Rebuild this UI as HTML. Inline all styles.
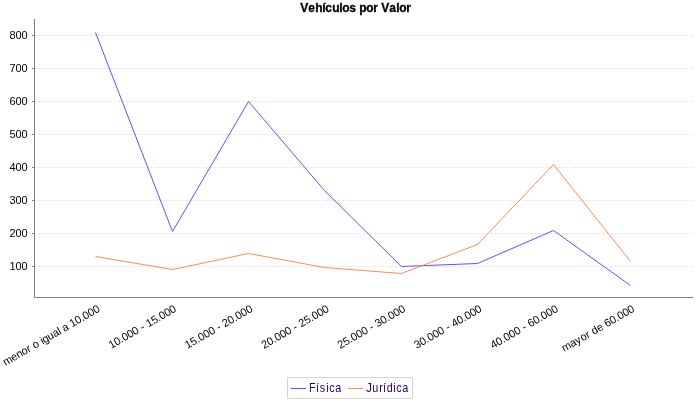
<!DOCTYPE html>
<html><head><meta charset="utf-8"><title>Vehículos por Valor</title>
<style>
html,body{margin:0;padding:0;background:#fff;}
body{width:700px;height:400px;overflow:hidden;}
svg{display:block;will-change:transform;font-family:'Liberation Sans', Arial, sans-serif;}
</style></head>
<body>
<svg width="700" height="400" viewBox="0 0 700 400">
<rect x="0" y="0" width="700" height="400" fill="#fff"/>
<text x="300.3 308.3 315.3 322.3 325.3 332.3 339.3 342.3 349.3 356.3 359.3 366.3 373.3 378.3 381.3 389.3 396.3 399.3 406.3" y="12" font-size="12" font-weight="bold" fill="#000" stroke="#000" stroke-width="0.3">Vehículos por Valor</text>
<line x1="34.5" y1="35.5" x2="692.5" y2="35.5" stroke="#c0c0c0" stroke-width="0.5" stroke-dasharray="2,2"/>
<line x1="34.5" y1="68.5" x2="692.5" y2="68.5" stroke="#c0c0c0" stroke-width="0.5" stroke-dasharray="2,2"/>
<line x1="34.5" y1="101.5" x2="692.5" y2="101.5" stroke="#c0c0c0" stroke-width="0.5" stroke-dasharray="2,2"/>
<line x1="34.5" y1="134.5" x2="692.5" y2="134.5" stroke="#c0c0c0" stroke-width="0.5" stroke-dasharray="2,2"/>
<line x1="34.5" y1="167.5" x2="692.5" y2="167.5" stroke="#c0c0c0" stroke-width="0.5" stroke-dasharray="2,2"/>
<line x1="34.5" y1="200.5" x2="692.5" y2="200.5" stroke="#c0c0c0" stroke-width="0.5" stroke-dasharray="2,2"/>
<line x1="34.5" y1="233.5" x2="692.5" y2="233.5" stroke="#c0c0c0" stroke-width="0.5" stroke-dasharray="2,2"/>
<line x1="34.5" y1="266.5" x2="692.5" y2="266.5" stroke="#c0c0c0" stroke-width="0.5" stroke-dasharray="2,2"/>
<line x1="34.5" y1="19" x2="34.5" y2="298" stroke="#808080" stroke-width="1"/>
<line x1="34" y1="297.5" x2="693" y2="297.5" stroke="#808080" stroke-width="1"/>
<line x1="32" y1="35.5" x2="34" y2="35.5" stroke="#808080" stroke-width="1"/>
<text x="9.6 15.6 21.6" y="38.9" font-size="11" fill="#000">800</text>
<line x1="32" y1="68.5" x2="34" y2="68.5" stroke="#808080" stroke-width="1"/>
<text x="9.6 15.6 21.6" y="71.9" font-size="11" fill="#000">700</text>
<line x1="32" y1="101.5" x2="34" y2="101.5" stroke="#808080" stroke-width="1"/>
<text x="9.6 15.6 21.6" y="104.9" font-size="11" fill="#000">600</text>
<line x1="32" y1="134.5" x2="34" y2="134.5" stroke="#808080" stroke-width="1"/>
<text x="9.6 15.6 21.6" y="137.9" font-size="11" fill="#000">500</text>
<line x1="32" y1="167.5" x2="34" y2="167.5" stroke="#808080" stroke-width="1"/>
<text x="9.6 15.6 21.6" y="170.9" font-size="11" fill="#000">400</text>
<line x1="32" y1="200.5" x2="34" y2="200.5" stroke="#808080" stroke-width="1"/>
<text x="9.6 15.6 21.6" y="203.9" font-size="11" fill="#000">300</text>
<line x1="32" y1="233.5" x2="34" y2="233.5" stroke="#808080" stroke-width="1"/>
<text x="9.6 15.6 21.6" y="236.9" font-size="11" fill="#000">200</text>
<line x1="32" y1="266.5" x2="34" y2="266.5" stroke="#808080" stroke-width="1"/>
<text x="9.6 15.6 21.6" y="269.9" font-size="11" fill="#000">100</text>
<polyline points="95.5,32.5 172.5,231.5 248.5,101.5 324.5,190.5 401.5,266.5 477.5,263.5 553.5,230.5 630.5,285.5" fill="none" stroke="#5555ff" stroke-width="1" stroke-linejoin="bevel"/>
<polyline points="95.5,256.5 172.5,269.5 248.5,253.5 324.5,267.5 401.5,273.5 477.5,244.5 553.5,164.5 630.5,261.5" fill="none" stroke="#ff8a55" stroke-width="1" stroke-linejoin="bevel"/>
<g transform="translate(95.69,302.3) rotate(-30)"><text x="-110 -101 -95 -89 -83 -79 -76 -70 -67 -65 -59 -53 -47 -45 -42 -36 -33 -27 -21 -18 -12 -6" y="9.96" font-size="11" fill="#000">menor o igual a 10.000</text></g>
<g transform="translate(172.06,302.3) rotate(-30)"><text x="-76 -70 -64 -61 -55 -49 -43 -40 -36 -33 -27 -21 -18 -12 -6" y="9.96" font-size="11" fill="#000">10.000 - 15.000</text></g>
<g transform="translate(248.44,302.3) rotate(-30)"><text x="-76 -70 -64 -61 -55 -49 -43 -40 -36 -33 -27 -21 -18 -12 -6" y="9.96" font-size="11" fill="#000">15.000 - 20.000</text></g>
<g transform="translate(324.81,302.3) rotate(-30)"><text x="-76 -70 -64 -61 -55 -49 -43 -40 -36 -33 -27 -21 -18 -12 -6" y="9.96" font-size="11" fill="#000">20.000 - 25.000</text></g>
<g transform="translate(401.19,302.3) rotate(-30)"><text x="-76 -70 -64 -61 -55 -49 -43 -40 -36 -33 -27 -21 -18 -12 -6" y="9.96" font-size="11" fill="#000">25.000 - 30.000</text></g>
<g transform="translate(477.56,302.3) rotate(-30)"><text x="-76 -70 -64 -61 -55 -49 -43 -40 -36 -33 -27 -21 -18 -12 -6" y="9.96" font-size="11" fill="#000">30.000 - 40.000</text></g>
<g transform="translate(553.94,302.3) rotate(-30)"><text x="-76 -70 -64 -61 -55 -49 -43 -40 -36 -33 -27 -21 -18 -12 -6" y="9.96" font-size="11" fill="#000">40.000 - 60.000</text></g>
<g transform="translate(630.31,302.3) rotate(-30)"><text x="-82 -73 -67 -61 -55 -51 -48 -42 -36 -33 -27 -21 -18 -12 -6" y="9.96" font-size="11" fill="#000">mayor de 60.000</text></g>
<rect x="287.5" y="377.5" width="125" height="21" fill="#fff" stroke="#d4d4d4" stroke-width="1"/>
<line x1="291" y1="388.5" x2="306" y2="388.5" stroke="#5555ff" stroke-width="1"/>
<text transform="scale(0.9,1)" x="343.47 351.11 355.28 362.56 365.79 372.52" y="392" font-size="12" fill="#2a0060">Física</text>
<line x1="348" y1="388.5" x2="363" y2="388.5" stroke="#ff8a55" stroke-width="1"/>
<text x="365.94" y="392" font-size="12" fill="#2a0060">J</text>
<text transform="scale(0.9,1)" x="413.7 421.44 425.56 429.63 437 440.29 446.97" y="392" font-size="12" fill="#2a0060">urídica</text>
</svg>
</body></html>
